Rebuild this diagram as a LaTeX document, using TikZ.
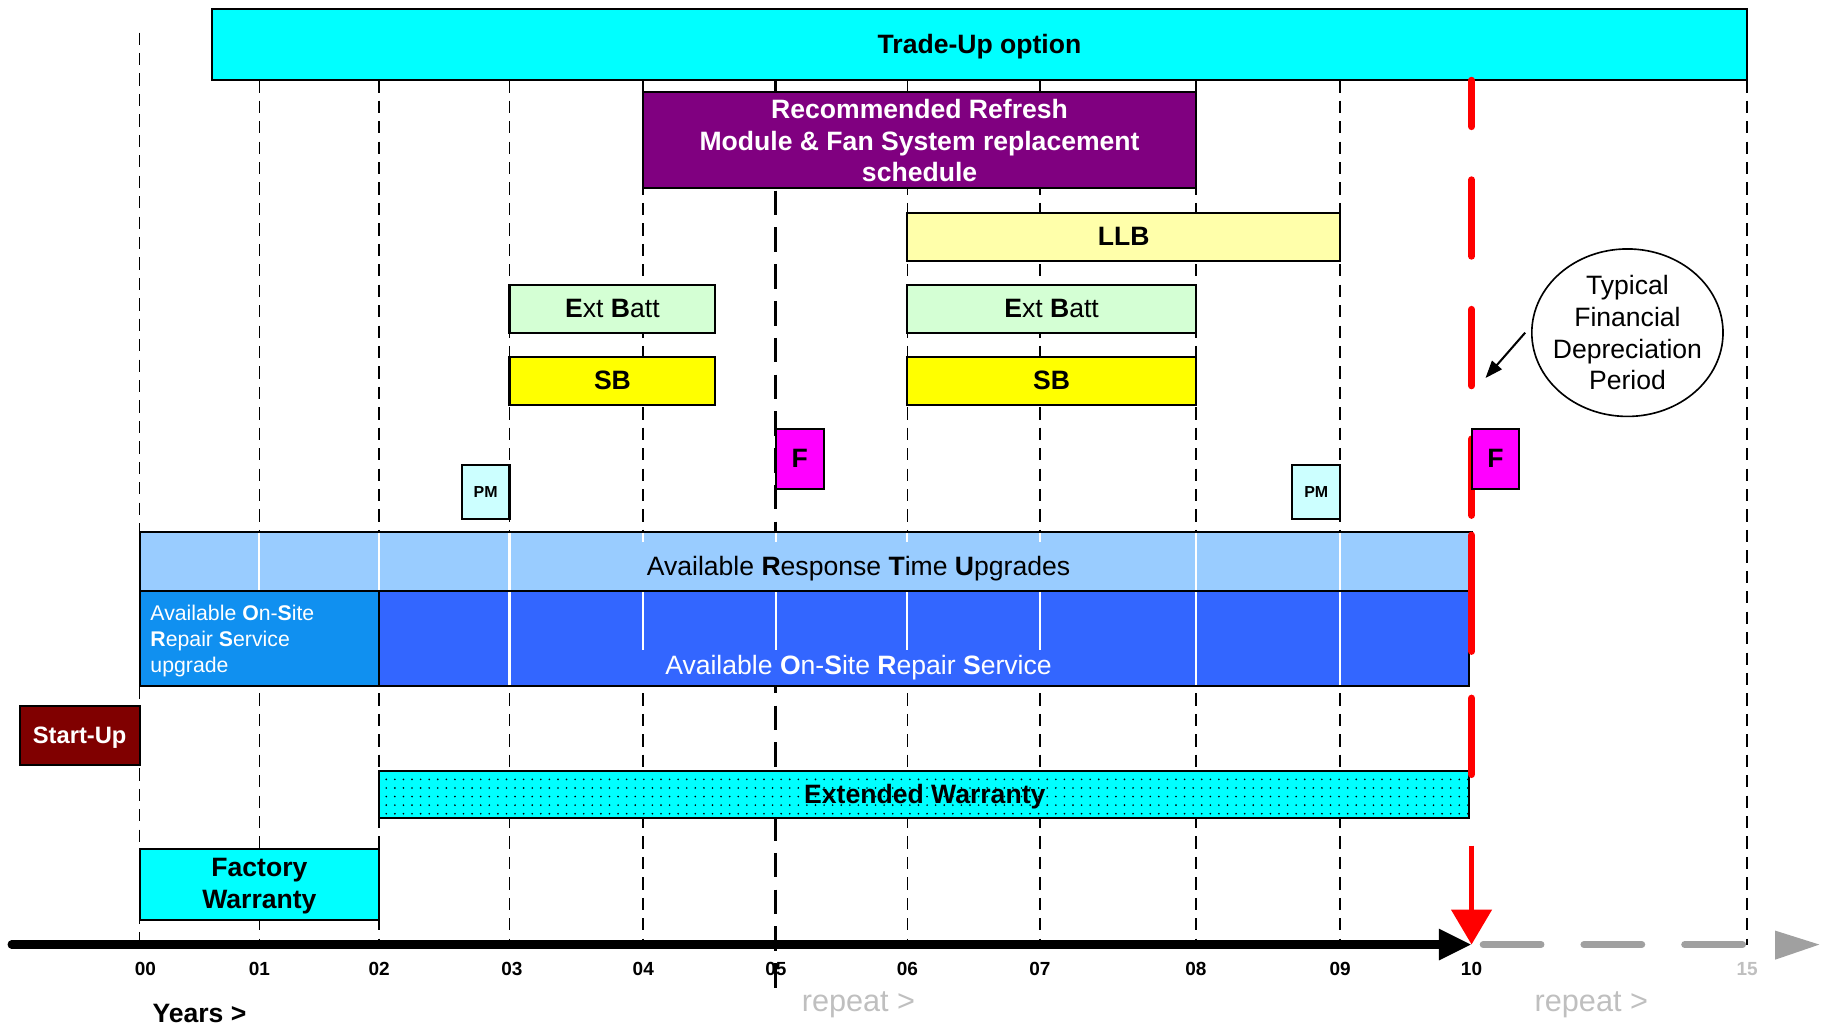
\documentclass[tikz,border=0pt]{standalone}
\usepackage{fontspec}
\setmainfont{Liberation Sans}
\usetikzlibrary{shapes.geometric,arrows.meta,patterns.meta}

\definecolor{tradecyan}{HTML}{00FFFF}
\definecolor{refreshpurple}{HTML}{800080}
\definecolor{llbyellow}{HTML}{FFFFAA}
\definecolor{battgreen}{HTML}{D4FFD4}
\definecolor{sbyellow}{HTML}{FFFF00}
\definecolor{fmagenta}{HTML}{FF00FF}
\definecolor{pmcyan}{HTML}{CCFFFF}
\definecolor{rtublue}{HTML}{99CCFF}
\definecolor{osrsblue}{HTML}{3366FF}
\definecolor{upgblue}{HTML}{1090F0}
\definecolor{startred}{HTML}{800000}
\definecolor{repeatgrey}{HTML}{A0A0A0}
\definecolor{repeattext}{HTML}{BFBFBF}

\begin{document}
\begin{tikzpicture}[x=0.02cm,y=-0.02cm,
  gridline/.style={line width=0.8pt,dash pattern=on 6pt off 4pt},
  halfline/.style={line width=1.5pt,dash pattern=on 12pt off 6pt},
  bar/.style={draw,line width=1pt},
  lbl/.style={inner sep=0pt,font=\fontsize{13}{15.5}\selectfont\bfseries},
  txt/.style={inner sep=0pt,font=\fontsize{13}{15.5}\selectfont},
  yearlbl/.style={inner sep=0pt,font=\fontsize{9.3}{11}\selectfont\bfseries},
  bandline/.style={white,line width=1pt},
  redline/.style={red,line width=3.4pt,line cap=round}]
\path[use as bounding box] (0,0) rectangle (1568,884);
\draw[gridline] (120,28) -- (120,812);
\foreach \x in {223,326,438,553,780,894,1028,1152,1502}
  \draw[gridline] (\x,69) -- (\x,812);
\draw[halfline] (667,69) -- (667,854);

\draw[bar,fill=tradecyan] (182,8) rectangle (1502,69);
\node[lbl] (tradeup) at (842,40) {Trade-Up option};
\draw[bar,fill=refreshpurple] (553,79) rectangle (1028,162);
\node[lbl,text=white,align=center] (refresh) at (790.5,121) {Recommended Refresh\\Module \& Fan System replacement\\schedule};
\draw[bar,fill=llbyellow] (780,183) rectangle (1152,224);
\node[lbl] (llb) at (966,203.5) {LLB};
\draw[bar,fill=battgreen] (438,245) rectangle (615,286);
\node[txt] (batt1) at (526.5,265.5) {\textbf{E}xt \textbf{B}att};
\draw[bar,fill=battgreen] (780,245) rectangle (1028,286);
\node[txt] (batt2) at (904,265.5) {\textbf{E}xt \textbf{B}att};
\draw[bar,fill=sbyellow] (438,307) rectangle (615,348);
\node[lbl] (sb1) at (526.5,327) {SB};
\draw[bar,fill=sbyellow] (780,307) rectangle (1028,348);
\node[lbl] (sb2) at (904,327) {SB};
\draw[bar,fill=fmagenta] (667,369) rectangle (708,420);
\node[lbl] (f1) at (687.5,394) {F};
\draw[bar,fill=pmcyan] (397,400) rectangle (438,446);
\node[lbl,font=\fontsize{7.8}{9}\selectfont\bfseries] (pm1) at (417.5,423) {PM};
\draw[bar,fill=pmcyan] (1111,400) rectangle (1152,446);
\node[lbl,font=\fontsize{7.8}{9}\selectfont\bfseries] (pm2) at (1131.5,423) {PM};

\draw[bar,fill=rtublue] (120,457) rectangle (1265,508);
\draw[bar,fill=osrsblue] (120,508) rectangle (1263,590);
\draw[bar,fill=upgblue] (120,508) rectangle (326,590);
\foreach \x in {223,326,438,1028,1152}
  \draw[bandline] (\x,458) -- (\x,507);
\foreach \x in {553,667,780,894}
  \draw[bandline] (\x,458) -- (\x,466);
\foreach \x in {438,1028,1152}
  \draw[bandline] (\x,509) -- (\x,589);
\foreach \x in {553,667,780,894}
  \draw[bandline] (\x,509) -- (\x,559);
\node[txt] (rtu) at (738,489) {Available \textbf{R}esponse \textbf{T}ime \textbf{U}pgrades};
\node[txt,text=white] (osrs) at (738,574) {Available \textbf{O}n-\textbf{S}ite \textbf{R}epair \textbf{S}ervice};
\node[txt,text=white,font=\fontsize{10.4}{12.5}\selectfont,align=left,anchor=west] (upg) at (129,551) {Available \textbf{O}n-\textbf{S}ite\\\textbf{R}epair \textbf{S}ervice\\upgrade};

\draw[bar,fill=startred] (17,607) rectangle (120,658);
\node[lbl,text=white,font=\fontsize{11.6}{14}\selectfont\bfseries] (startup) at (68.5,634) {Start-Up};
\draw[bar,preaction={fill=tradecyan},pattern={Dots[distance=4.2pt,radius=0.45pt]}] (326,663) rectangle (1263,703);
\node[lbl] (extwar) at (795,685) {Extended Warranty};
\draw[bar,fill=tradecyan] (120,730) rectangle (326,791);
\node[lbl,align=center] (facwar) at (223,762) {Factory\\Warranty};

\draw[redline,dash pattern=on 37.4pt off 26pt,dash phase=14.7pt] (1265,69) -- (1265,672);
\draw[redline] (1265,460) -- (1265,560);
\draw[bar,fill=fmagenta] (1265,369) rectangle (1306,420);
\node[lbl] (f2) at (1285.5,394) {F};

\node[draw,ellipse,line width=0.8pt,minimum height=2.88cm,txt,inner xsep=-0.12cm,align=center] (fdp) at (1399,286) {Typical\\Financial\\Depreciation\\Period};
\coordinate (fdptip) at (1277,325);
\draw[line width=1pt,-{Triangle[length=0.3cm,width=0.22cm]}] (fdp.west) ++(-5,0) -- (fdptip);

\coordinate (axisstart) at (10,812);
\coordinate (axisend) at (1265,812);
\coordinate (redtop) at (1265,727);
\draw[line width=4pt,line cap=round,-{Triangle[length=0.56cm,width=0.5cm]}] (axisstart) -- (axisend);
\draw[red,line width=2.8pt,-{Triangle[length=0.6cm,width=0.68cm]}] (redtop) -- (axisend);
\draw[repeatgrey,line width=3.4pt,line cap=round,dash pattern=on 28.3pt off 21pt] (1275,812) -- (1499,812);
\fill[repeatgrey] (1526,800) -- (1564,812) -- (1526,825) -- cycle;

\foreach \x/\yr in {125/00,223/01,326/02,440/03,553/04,667/05,780/06,894/07,1028/08,1152/09,1265/10}
  \node[yearlbl] (lbl\yr) at (\x,833) {\yr};
\node[yearlbl,text=repeattext] (lbl15) at (1502,833) {15};
\node[lbl] (years) at (171.5,871) {Years >};
\node[txt,text=repeattext,font=\fontsize{15}{18}\selectfont] (repeat1) at (738,864) {repeat >};
\node[txt,text=repeattext,font=\fontsize{15}{18}\selectfont] (repeat2) at (1368,864) {repeat >};
\end{tikzpicture}
\end{document}
